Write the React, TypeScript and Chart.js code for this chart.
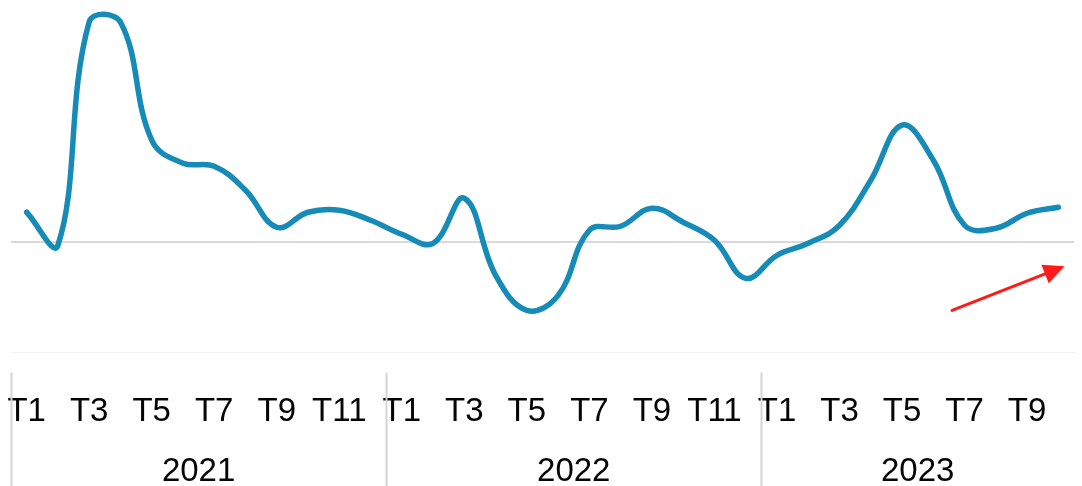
import React, { useEffect, useRef } from "react";
import { Chart, registerables } from "chart.js";

Chart.register(...registerables);

const YEARS = ["2021", "2022", "2023"];
const MONTHS_PER_YEAR = [12, 12, 10];

const VALUES_2021 = [3.0, -0.3, 22.0, 22.0, 10.2, 7.9, 7.6, 5.2, 1.5, 3.0, 3.2, 2.2];
const VALUES_2022 = [0.8, -0.1, 4.4, -3.3, -6.8, -5.3, 1.2, 1.6, 3.4, 2.0, 0.2, -3.6];
const VALUES_2023 = [-1.3, -0.1, 1.7, 6.2, 11.7, 8.2, 1.7, 1.4, 2.9, 3.5];

const Y_MIN = -11;
const Y_MAX = 23.5;

// Trend arrow, in data coordinates (category index, value)
const ARROW_FROM = { x: 29.6, y: -6.8 };
const ARROW_TO = { x: 33.2, y: -2.4 };

const LINE_COLOR = "#168bb8";
const TEXT_COLOR = "#050505";
const FONT_FAMILY = "'Liberation Sans', Arial, sans-serif";
const FONT_SIZE = 33;

const labels: string[] = [];
MONTHS_PER_YEAR.forEach((n) => {
  for (let m = 1; m <= n; m++) labels.push("T" + m);
});
const values = [...VALUES_2021, ...VALUES_2022, ...VALUES_2023];

const yearPlugin = {
  id: "yearGroups",
  afterDraw(chart: any) {
    const { ctx, scales, chartArea } = chart;
    const x = scales.x;
    const y = scales.y;
    const half = (x.getPixelForValue(1) - x.getPixelForValue(0)) / 2;
    ctx.save();
    let start = 0;
    MONTHS_PER_YEAR.forEach((n, i) => {
      const left = x.getPixelForValue(start) - half;
      const right = x.getPixelForValue(start + n - 1) + half;
      ctx.strokeStyle = "#d4d4d4";
      ctx.lineWidth = 2;
      ctx.beginPath();
      ctx.moveTo(Math.round(left) + 0.5, chartArea.bottom + 20);
      ctx.lineTo(Math.round(left) + 0.5, chart.height);
      ctx.stroke();
      ctx.fillStyle = TEXT_COLOR;
      ctx.font = `${FONT_SIZE}px ${FONT_FAMILY}`;
      ctx.textAlign = "center";
      ctx.textBaseline = "middle";
      ctx.fillText(YEARS[i], (left + right) / 2, chartArea.bottom + 120);
      start += n;
    });

    // arrow
    const x0 = x.getPixelForValue(ARROW_FROM.x);
    const y0 = y.getPixelForValue(ARROW_FROM.y);
    const x1 = x.getPixelForValue(ARROW_TO.x);
    const y1 = y.getPixelForValue(ARROW_TO.y);
    const ang = Math.atan2(y1 - y0, x1 - x0);
    const headLen = 21;
    const headW = 10;
    const bx = x1 - headLen * Math.cos(ang);
    const by = y1 - headLen * Math.sin(ang);
    ctx.strokeStyle = "#ff1a1a";
    ctx.fillStyle = "#ff1a1a";
    ctx.lineWidth = 3;
    ctx.lineCap = "round";
    ctx.beginPath();
    ctx.moveTo(x0, y0);
    ctx.lineTo(bx, by);
    ctx.stroke();
    ctx.beginPath();
    ctx.moveTo(x1, y1);
    ctx.lineTo(bx + headW * Math.sin(ang), by - headW * Math.cos(ang));
    ctx.lineTo(bx - headW * Math.sin(ang), by + headW * Math.cos(ang));
    ctx.closePath();
    ctx.fill();
    ctx.restore();
  },
};

export default function App() {
  const ref = useRef<HTMLCanvasElement | null>(null);
  useEffect(() => {
    document.body.style.margin = "0";
    if (!ref.current) return;
    const chart = new Chart(ref.current, {
      type: "line",
      data: {
        labels,
        datasets: [
          {
            data: values,
            borderColor: LINE_COLOR,
            borderWidth: 5.5,
            pointRadius: 0,
            tension: 0.4,
            fill: false,
            borderCapStyle: "round",
            borderJoinStyle: "round",
          },
        ],
      },
      options: {
        animation: false,
        responsive: false,
        maintainAspectRatio: false,
        layout: { padding: { left: 11, right: 8, top: 7, bottom: 14 } },
        plugins: { legend: { display: false }, tooltip: { enabled: false } },
        scales: {
          x: {
            type: "category",
            offset: true,
            afterFit: (s: any) => {
              s.paddingLeft = 0;
              s.paddingRight = 0;
            },
            grid: { display: false, drawTicks: false },
            border: { display: true, color: "#f2f2f2", width: 1 },
            ticks: {
              autoSkip: false,
              maxRotation: 0,
              minRotation: 0,
              padding: 40,
              color: TEXT_COLOR,
              font: { size: FONT_SIZE, family: FONT_FAMILY },
              callback: (_v: any, i: number) => (i % 2 === 0 ? labels[i] : ""),
            },
          },
          y: {
            min: Y_MIN,
            max: Y_MAX,
            border: { display: false },
            afterFit: (s: any) => {
              s.width = 0;
            },
            grid: {
              drawTicks: false,
              lineWidth: 2,
              color: (c: any) => (c.tick && c.tick.value === 0 ? "#d9d9d9" : "rgba(0,0,0,0)"),
            },
            ticks: { display: false, stepSize: 1 },
          },
        },
      },
      plugins: [yearPlugin],
    });
    return () => chart.destroy();
  }, []);
  return (
    <div style={{ width: 1082, height: 486 }}>
      <canvas ref={ref} width={1082} height={486} style={{ display: "block" }} />
    </div>
  );
}
